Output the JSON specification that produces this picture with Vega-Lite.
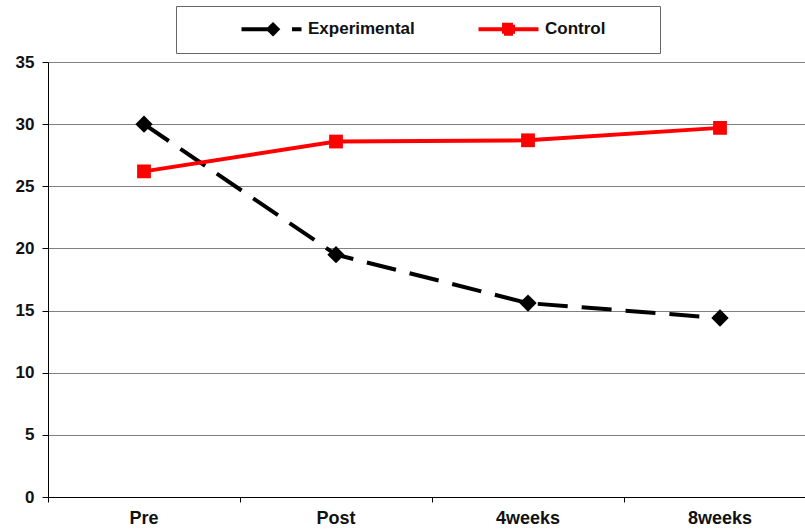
{
  "$schema": "https://vega.github.io/schema/vega-lite/v6.json",
  "autosize": {"type": "none"},
  "padding": {"left": 48, "top": 62, "right": 0, "bottom": 34},
  "width": 757,
  "height": 435,
  "background": "white",
  "config": {
    "view": {"stroke": null},
    "font": "Liberation Sans"
  },
  "data": {
    "values": [
      {"time": "Pre", "group": "Experimental", "value": 30.0},
      {"time": "Post", "group": "Experimental", "value": 19.5},
      {"time": "4weeks", "group": "Experimental", "value": 15.6},
      {"time": "8weeks", "group": "Experimental", "value": 14.4},
      {"time": "Pre", "group": "Control", "value": 26.2},
      {"time": "Post", "group": "Control", "value": 28.6},
      {"time": "4weeks", "group": "Control", "value": 28.7},
      {"time": "8weeks", "group": "Control", "value": 29.7}
    ]
  },
  "encoding": {
    "x": {
      "field": "time",
      "type": "nominal",
      "sort": ["Pre", "Post", "4weeks", "8weeks"],
      "scale": {"type": "band", "paddingInner": 0, "paddingOuter": 0, "range": [0, 768]},
      "axis": {
        "title": null,
        "labelAngle": 0,
        "bandPosition": 0,
        "labelPadding": 7,
        "labelFont": "Liberation Sans",
        "labelFontSize": 18,
        "labelFontWeight": "bold",
        "labelColor": "#111",
        "domainColor": "#000",
        "domainWidth": 1,
        "tickColor": "#000",
        "tickSize": 5,
        "grid": false
      }
    },
    "y": {
      "field": "value",
      "type": "quantitative",
      "scale": {"domain": [0, 35], "nice": false},
      "axis": {
        "title": null,
        "values": [0, 5, 10, 15, 20, 25, 30, 35],
        "labelFont": "Liberation Sans",
        "labelFontSize": 17,
        "labelFontWeight": "bold",
        "labelColor": "#111",
        "labelPadding": 8,
        "domainColor": "#000",
        "domainWidth": 1,
        "tickColor": "#000",
        "tickSize": 6,
        "grid": true,
        "gridColor": "#808080",
        "gridWidth": 1
      }
    },
    "color": {
      "field": "group",
      "type": "nominal",
      "scale": {"domain": ["Experimental", "Control"], "range": ["#000000", "#ff0000"]},
      "legend": {
        "orient": "none",
        "legendX": 128,
        "legendY": -56,
        "direction": "horizontal",
        "title": null,
        "padding": 11,
        "strokeColor": "#666",
        "fillColor": "white",
        "symbolSize": 400,
        "symbolStrokeWidth": 4,
        "symbolOffset": 72.5,
        "labelOffset": 24.5,
        "columnPadding": 9,
        "labelFont": "Liberation Sans",
        "labelFontSize": 17,
        "labelFontWeight": "bold",
        "labelColor": "#111",
        "labelLimit": 300,
        "encode": {
          "symbols": {
            "update": {
              "shape": {"signal": "datum.value === 'Experimental' ? 'M-3,0H0.3M2.05,0H3M0.15,-0.45L0.6,0L0.15,0.45L-0.3,0Z' : 'M-3,0H3M-0.45,-0.45H0.45V0.45H-0.45ZM13.25,0'"},
              "fill": {"signal": "datum.value === 'Experimental' ? '#000000' : '#ff0000'"},
              "stroke": {"signal": "datum.value === 'Experimental' ? '#000000' : '#ff0000'"},
              "strokeWidth": {"value": 4},
              "strokeDash": {"value": [1, 0]},
              "opacity": {"value": 1},
              "fillOpacity": {"value": 1}
            }
          }
        }
      }
    }
  },
  "layer": [
    {
      "transform": [{"filter": "datum.group === 'Experimental'"}],
      "mark": {"type": "line", "strokeWidth": 4, "strokeDash": [30, 14]}
    },
    {
      "transform": [{"filter": "datum.group === 'Control'"}],
      "mark": {"type": "line", "strokeWidth": 4}
    },
    {
      "transform": [{"filter": "datum.group === 'Experimental'"}],
      "mark": {"type": "point", "filled": true, "opacity": 1, "shape": "diamond", "size": 300}
    },
    {
      "transform": [{"filter": "datum.group === 'Control'"}],
      "mark": {"type": "point", "filled": true, "opacity": 1, "shape": "square", "size": 190}
    }
  ]
}
